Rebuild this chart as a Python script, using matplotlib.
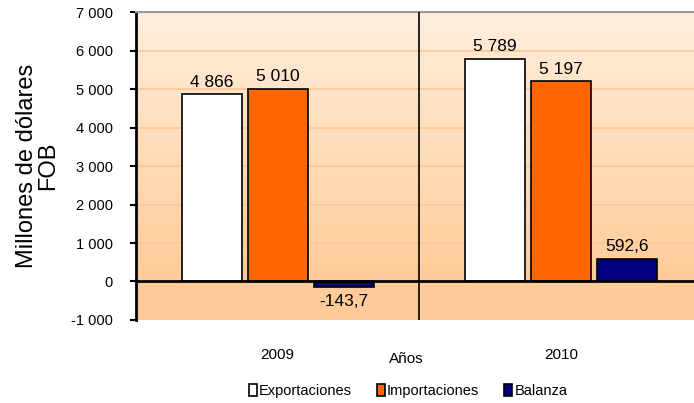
import matplotlib
matplotlib.use("Agg")
import matplotlib.pyplot as plt
import numpy as np
from matplotlib.colors import LinearSegmentedColormap
from matplotlib.patches import Patch

plt.rcParams["font.family"] = ["Liberation Sans", "DejaVu Sans"]

years = ["2009", "2010"]
series = ["Exportaciones", "Importaciones", "Balanza"]
exportaciones = [4866, 5789]
importaciones = [5010, 5197]
balanza = [-143.7, 592.6]
labels_exp = ["4 866", "5 789"]
labels_imp = ["5 010", "5 197"]
labels_bal = ["-143,7", "592,6"]
yticks = [-1000, 0, 1000, 2000, 3000, 4000, 5000, 6000, 7000]
yticklabels = ["-1 000", "0", "1 000", "2 000", "3 000", "4 000", "5 000", "6 000", "7 000"]

colors = ["#FFFFFF", "#FF6600", "#000080"]

fig = plt.figure(figsize=(6.94, 4.03), dpi=100)
ax = fig.add_axes([0.196, 0.206, 0.816, 0.764])
ymin, ymax = -1000, 7000
xmin, xmax = -0.5, 1.5
ax.set_xlim(xmin, xmax)
ax.set_ylim(ymin, ymax)

# gradient background above zero, flat below
cmap = LinearSegmentedColormap.from_list("bg", ["#FFCC99", "#FFEEDD"])
grad = np.linspace(0, 1, 256).reshape(-1, 1)
ax.imshow(grad, extent=(xmin, xmax, 0, ymax), origin="lower", cmap=cmap,
          aspect="auto", zorder=0)
ax.axhspan(ymin, 0, color="#FFCC99", zorder=0, lw=0)

for y in range(1000, 7000, 1000):
    ax.axhline(y, color="#FFC996", lw=1.3, zorder=1)

x = np.arange(len(years))
w = 0.212
step = 0.233
vals = [exportaciones, importaciones, balanza]
labs = [labels_exp, labels_imp, labels_bal]
for i, (v, lab, c) in enumerate(zip(vals, labs, colors)):
    xs = x + (i - 1) * step
    ax.bar(xs, v, width=w, color=c, edgecolor="black", lw=1.2, zorder=3)
    for xi, vi, li in zip(xs, v, lab):
        if vi >= 0:
            ax.text(xi, vi + 120, li, ha="center", va="bottom", fontsize=12.5, zorder=4)
        else:
            ax.text(xi, vi - 170, li, ha="center", va="top", fontsize=12.5, zorder=4)

ax.axhline(0, color="black", lw=2, zorder=5)
ax.axvline(0.5, color="black", lw=1.2, zorder=5)

for s in ["right", "bottom"]:
    ax.spines[s].set_visible(False)
ax.spines["top"].set_color("#999999")
ax.spines["top"].set_linewidth(1.5)
ax.spines["left"].set_linewidth(2)

ax.set_yticks(yticks)
ax.set_yticklabels(yticklabels, fontsize=10.5)
ax.tick_params(axis="y", direction="out", length=4.5, width=1.5, pad=12)
ax.set_xticks([])
for xi, yr in zip(x, years):
    ax.text(xi, -1900, yr, ha="center", va="center", fontsize=11)
ax.text(0.456, -2020, "Años", ha="center", va="center", fontsize=11)

ax.set_ylabel("Millones de dólares\nFOB", fontsize=17, labelpad=9, linespacing=0.95)

handles = [Patch(facecolor=c, edgecolor="black", lw=1.2) for c in colors]
fig.legend(handles, series, loc="center", bbox_to_anchor=(0.588, 0.03), ncol=3,
           frameon=False, fontsize=10.5, handlelength=0.55, handleheight=0.9,
           handletextpad=0.15, columnspacing=1.7)

fig.savefig("out.png", dpi=100)
